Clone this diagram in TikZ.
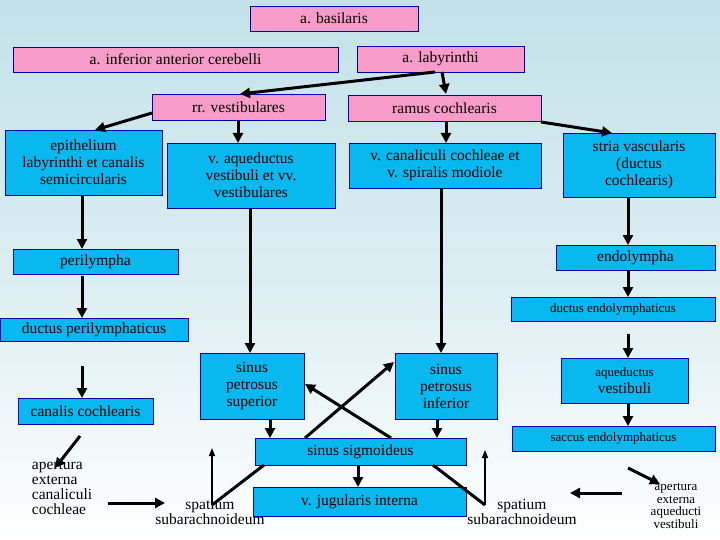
\documentclass[tikz,border=0pt]{standalone}
\usepackage{fontspec}
\setmainfont{Liberation Serif}
\usetikzlibrary{arrows.meta}
\definecolor{pinkb}{HTML}{F79BC8}
\definecolor{blueb}{HTML}{08B8EE}
\definecolor{bgtop}{HTML}{C3E2E9}
\begin{document}
\begin{tikzpicture}[x=1pt,y=-1pt,
 bx/.style={draw=blue!70!black,line width=0.9pt,inner sep=0pt,align=center,font=\fontsize{15.5}{17}\selectfont},
 pk/.style={bx,fill=pinkb},
 bl/.style={bx,fill=blueb},
 tx/.style={align=center,inner sep=0pt,font=\fontsize{15.5}{15}\selectfont},
 ar/.style={-{Triangle[length=10pt,width=10pt]},line width=3pt,black},
 ln/.style={line width=3pt,black},
 th/.style={-{Triangle[length=8pt,width=6pt]},line width=1.4pt,black}]
\shade[top color=bgtop,bottom color=white,middle color=bgtop!60!white] (0,0) rectangle (720,540);
\useasboundingbox (0,0) rectangle (720,540);
\def\B#1#2#3#4#5#6#7{\node[#1,minimum width=#4-#3,minimum height=#6-#5] (#2) at ({(#3+#4)/2},{(#5+#6)/2}) {#7};}
\B{pk}{bas}{250}{418}{6}{31}{a. basilaris}
\B{pk}{inf}{13}{338}{47}{72}{a. inferior anterior cerebelli}
\B{pk}{lab}{357}{524}{46}{72}{a. labyrinthi}
\B{pk}{rrv}{152}{325}{94}{120}{rr. vestibulares}
\B{pk}{ram}{348}{541}{95}{121}{ramus cochlearis}
\B{bl}{epi}{5}{162}{130}{195}{epithelium\\labyrinthi et canalis\\semicircularis}
\B{bl}{vaq}{167}{335}{143}{208}{v. aqueductus\\vestibuli et vv.\\vestibulares}
\B{bl}{vca}{349}{541}{143}{188}{v. canaliculi cochleae et\\v. spiralis modiole}
\B{bl}{str}{563}{715}{133}{197}{stria vascularis\\(ductus\\cochlearis)}
\B{bl}{per}{13}{178}{249}{274}{perilympha}
\B{bl}{end}{556}{715}{245}{270}{endolympha}
\B{bl}{den}{511}{715}{297}{321}{\fontsize{13}{13}\selectfont ductus endolymphaticus}
\B{bl}{dpe}{0}{188}{318}{341}{ductus perilymphaticus}
\B{bl}{sps}{200}{304}{353}{419}{sinus\\petrosus\\superior}
\B{bl}{spi}{395}{497}{353}{419}{sinus\\petrosus\\inferior}
\B{bl}{aqv}{561}{688}{358}{403}{\fontsize{13}{15}\selectfont aqueductus\\vestibuli}
\B{bl}{can}{18}{153}{398}{424}{canalis cochlearis}
\B{bl}{sig}{255}{466}{438}{465}{sinus sigmoideus}
\B{bl}{sac}{512}{715}{426}{451}{\fontsize{13}{13}\selectfont saccus endolymphaticus}
\B{bl}{jug}{253}{466}{487}{516}{v. jugularis interna}
\node[tx,align=left] (ael) at (62,488) {apertura\\externa\\canaliculi\\cochleae};
\node[tx] (spl) at (210,512) {spatium\\subarachnoideum};
\node[tx] (spr) at (522,512) {spatium\\subarachnoideum};
\node[tx,font=\fontsize{13}{12.5}\selectfont] (aer) at (676,506) {apertura\\externa\\aqueducti\\vestibuli};
\coordinate (sl) at (212,505); \coordinate (sr) at (485,505);
\coordinate (slt) at (212,448); \coordinate (srt) at (485,450);
\draw[ar] (435,72) -- (240,94);
\draw[ar] (442,72) -- (446,94);
\draw[ar] (152,113) -- (95,130);
\draw[ar] (238,120) -- (238,143);
\draw[ar] (446,121) -- (446,143);
\draw[ar] (541,122) -- (612,133);
\draw[ar] (82,195) -- (82,249);
\draw[ar] (628,197) -- (628,245);
\draw[ar] (82,276) -- (82,318);
\draw[ar] (628,270) -- (628,297);
\draw[ar] (250,208) -- (250,353);
\draw[ar] (441,188) -- (441,353);
\draw[ar] (628,334) -- (628,358);
\draw[ar] (82,366) -- (82,398);
\draw[ar] (628,403) -- (628,426);
\draw[ar] (270,419) -- (270,438);
\draw[ar] (437,419) -- (437,438);
\draw[ar] (305,438) -- (394,362);
\draw[ar] (391,438) -- (305,384);
\draw[ar] (358,465) -- (358,487);
\draw[ar] (80,436) -- (55,468);
\draw[ar] (108,503) -- (165,503);
\draw[ar] (628,468) -- (660,484);
\draw[ar] (622,493) -- (570,493);
\draw[ln] (264,465) -- (sl);
\draw[ln] (433,465) -- (sr);
\draw[th] (sl) -- (slt);
\draw[th] (sr) -- (srt);
\end{tikzpicture}
\end{document}
